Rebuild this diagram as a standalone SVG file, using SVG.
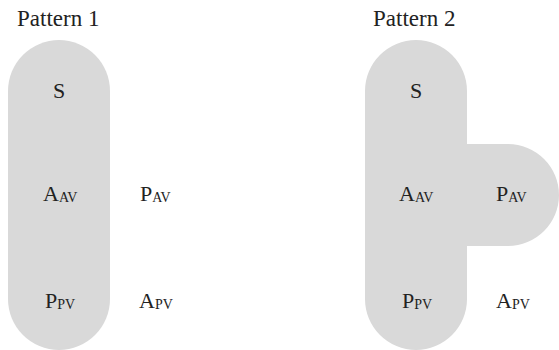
<svg xmlns="http://www.w3.org/2000/svg" width="559" height="350" viewBox="0 0 559 350">
  <style>
    .shape { fill: #d9d9d9; stroke: none; }
    text { font-family: "Liberation Serif", "DejaVu Serif", serif; fill: #222; font-size: 22px; }
    .title { font-size: 23px; }
    .sub { font-size: 14px; }
  </style>
  <rect width="559" height="350" fill="#ffffff"/>

  <!-- Pattern 1 -->
  <g id="pattern1">
    <text class="title" x="17" y="26">Pattern 1</text>
    <rect class="shape" x="8" y="40" width="102" height="310" rx="51" ry="51"/>
    <g id="p1-S"><text x="59" y="98" text-anchor="middle">S</text></g>
    <g id="p1-AAV"><text x="43" y="201">A<tspan class="sub" dy="1">AV</tspan></text></g>
    <g id="p1-PAV"><text x="140" y="201">P<tspan class="sub" dy="1">AV</tspan></text></g>
    <g id="p1-PPV"><text x="45" y="308">P<tspan class="sub" dy="1">PV</tspan></text></g>
    <g id="p1-APV"><text x="139" y="308">A<tspan class="sub" dy="1">PV</tspan></text></g>
  </g>

  <!-- Pattern 2 -->
  <g id="pattern2">
    <text class="title" x="373" y="26">Pattern 2</text>
    <path class="shape" d="M365,91 A51,51 0 0 1 467,91 V144 H508 A51,51 0 0 1 508,246 H467 V299 A51,51 0 0 1 365,299 Z"/>
    <g id="p2-S"><text x="416" y="98" text-anchor="middle">S</text></g>
    <g id="p2-AAV"><text x="399" y="201">A<tspan class="sub" dy="1">AV</tspan></text></g>
    <g id="p2-PAV"><text x="496" y="201">P<tspan class="sub" dy="1">AV</tspan></text></g>
    <g id="p2-PPV"><text x="402" y="308">P<tspan class="sub" dy="1">PV</tspan></text></g>
    <g id="p2-APV"><text x="496" y="308">A<tspan class="sub" dy="1">PV</tspan></text></g>
  </g>

  <g id="connectors"></g>
</svg>
